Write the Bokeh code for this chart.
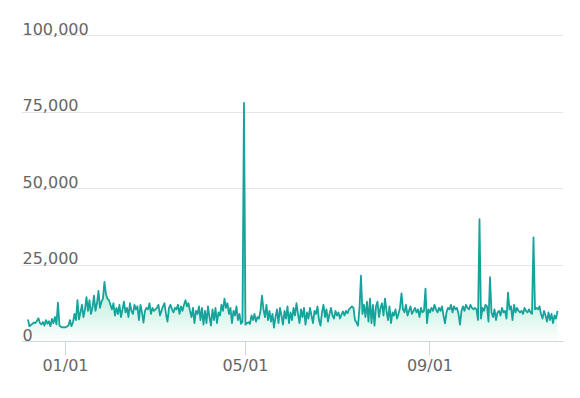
from datetime import datetime, timedelta
import numpy as np
import pandas as pd
from bokeh.plotting import figure
from bokeh.models import Range1d, FixedTicker, DatetimeTickFormatter, ColumnDataSource
from bokeh.core.properties import value
from bokeh.embed import file_html
from bokeh.resources import INLINE

# ---- data (daily values) ----
start_date = "2018-12-07"
dec = [7200, 5000, 5400, 5800, 6200, 6000, 6800, 7600, 6000, 5600, 6400, 5200, 7000,
       5800, 6600, 5000, 7400, 6000, 8000, 5600, 12700, 5200, 4800, 4600, 4700]
jan = [4600, 4900, 5200, 7000, 5000, 6200, 9000, 7000, 13500, 7200, 9500, 12000, 8000,
       10500, 14500, 10000, 13500, 9000, 11000, 15000, 10000, 12500, 16500, 11000, 13000,
       14000, 19500, 15500, 14000, 13500, 12000]
feb = [10500, 12500, 8500, 11000, 9000, 12000, 8000, 10500, 13000, 9500, 11000, 8000,
       12500, 10000, 9000, 12000, 10500, 11500, 7000, 12000, 9500, 6200, 10000, 11000,
       10500, 12500, 9000, 11000]
mar = [10000, 10500, 11000, 12000, 8500, 10000, 11500, 12500, 9000, 6500, 11000, 12000,
       10500, 9500, 11000, 10500, 12000, 9000, 11500, 10000, 12000, 13500, 11500, 12500,
       10000, 8000, 11000, 6000, 10000, 9000, 11500]
apr = [7000, 11000, 5500, 10000, 6000, 11500, 8000, 5200, 10500, 7000, 11000, 6000, 9500,
       8500, 12000, 10000, 14000, 11000, 12500, 9000, 11000, 6000, 10000, 8500, 11500,
       7000, 9000, 5800, 6500, 78000]
may = [5500, 6000, 6300, 5800, 8500, 7000, 9000, 6500, 8000, 7500, 10000, 15000, 10500,
       8000, 12000, 7000, 10000, 6500, 9000, 4500, 8000, 10500, 6000, 11000, 8500, 5500,
       10000, 7500, 11500, 6000, 9500]
jun = [7000, 11000, 8500, 12500, 9000, 6000, 10500, 8000, 11000, 5500, 9500, 7500, 11000,
       8500, 6000, 10000, 9000, 11500, 7000, 5200, 9500, 12000, 8000, 10500, 6500, 9000,
       11000, 8500, 7500, 10000]
jul = [8500, 9500, 7500, 8800, 9800, 8500, 10000, 9200, 10500, 11000, 11500, 11000, 7000,
       6200, 5200, 11000, 21500, 9000, 12000, 8000, 13000, 6500, 14000, 6000, 12000, 5200,
       11500, 13000, 8000, 11000, 12500]
aug = [8500, 14000, 10000, 7000, 11500, 6000, 9500, 8500, 10500, 7500, 9000, 11000, 15700,
       10500, 9500, 12000, 8500, 10000, 11500, 9000, 10000, 11000, 9500, 10500, 8000,
       11000, 9500, 10000, 17300, 6000, 10500]
sep = [9500, 11000, 10000, 12000, 10500, 9500, 11000, 10000, 11500, 8500, 5900, 9500,
       11000, 10500, 12000, 9500, 11500, 10500, 11000, 9000, 5500, 10000, 11500, 10000,
       12000, 11000, 10500, 12000, 11000, 10500]
oct_ = [11000, 10500, 7000, 40000, 7500, 11000, 10000, 12000, 11500, 6500, 21000, 9500,
        8000, 10500, 7000, 9500, 10000, 8500, 11000, 9500, 10000, 7500, 16000, 10500,
        11500, 7000, 12000, 9500, 11000, 10000, 9500]
nov = [10000, 9000, 11000, 10000, 9500, 10500, 9500, 9000, 34000, 10500, 11000, 10500,
       11500, 9000, 7500, 10000, 8500, 6500, 9500, 7000, 9000, 6000, 8500, 7500, 10000]

y_ticks = [0, 25000, 50000, 75000, 100000]
y_labels = ["0", "25,000", "50,000", "75,000", "100,000"]
x_ticks = ["2019-01-01", "2019-05-01", "2019-09-01"]

values = np.array(dec + jan + feb + mar + apr + may + jun + jul + aug + sep + oct_ + nov, dtype=float)
dates = pd.date_range(start_date, periods=len(values), freq="D")

LINE = "#16a39b"
TXT = "#666666"
FONT = "DejaVu Sans"

x_start = datetime(2019, 1, 1) - timedelta(days=29.3)
x_end = x_start + timedelta(days=361.3)

p = figure(width=580, height=398, x_axis_type="datetime",
           x_range=Range1d(x_start, x_end), y_range=Range1d(0, 108170),
           output_backend="svg", toolbar_location=None,
           min_border_left=21, min_border_right=17, min_border_top=10, min_border_bottom=57)
p.outline_line_color = None
p.background_fill_color = "white"
p.border_fill_color = "white"

src = ColumnDataSource(dict(x=dates, y=values))

# gradient-like area fill: stacked translucent bands
for h in range(0, 25000, 1000):
    lo = np.minimum(values, h)
    p.varea(x=dates, y1=lo, y2=values, fill_color=LINE, fill_alpha=0.016)

p.line("x", "y", source=src, line_color=LINE, line_width=1.8, line_join="round")

# axes
p.yaxis.visible = False
p.ygrid.ticker = FixedTicker(ticks=y_ticks)
p.ygrid.grid_line_color = "#e6e6e6"
p.ygrid.grid_line_width = 1
p.xgrid.visible = False

epoch = datetime(1970, 1, 1)
xt = [(datetime.fromisoformat(d) - epoch).total_seconds() * 1000 for d in x_ticks]
ax = p.xaxis[0]
ax.ticker = FixedTicker(ticks=xt)
fmt = "%m/%d"
ax.formatter = DatetimeTickFormatter(milliseconds=fmt, seconds=fmt, minsec=fmt, minutes=fmt,
                                     hourmin=fmt, hours=fmt, days=fmt, months=fmt, years=fmt)
ax.axis_line_color = "#ccd6eb"
ax.major_tick_line_color = "#ccd6eb"
ax.major_tick_out = 14
ax.major_tick_in = 0
ax.minor_tick_line_color = None
ax.major_label_text_font = FONT
ax.major_label_text_font_size = "16px"
ax.major_label_text_color = TXT
ax.major_label_standoff = 0

# y labels above gridlines
lab = ColumnDataSource(dict(x=[x_start] * len(y_ticks), y=y_ticks, t=y_labels))
p.text(x="x", y="y", text="t", source=lab, text_font=value(FONT), text_font_size="16px",
       text_color=TXT, text_baseline="bottom", text_align="left", x_offset=1, y_offset=-1)

open("out.html", "w").write(file_html(p, INLINE))
